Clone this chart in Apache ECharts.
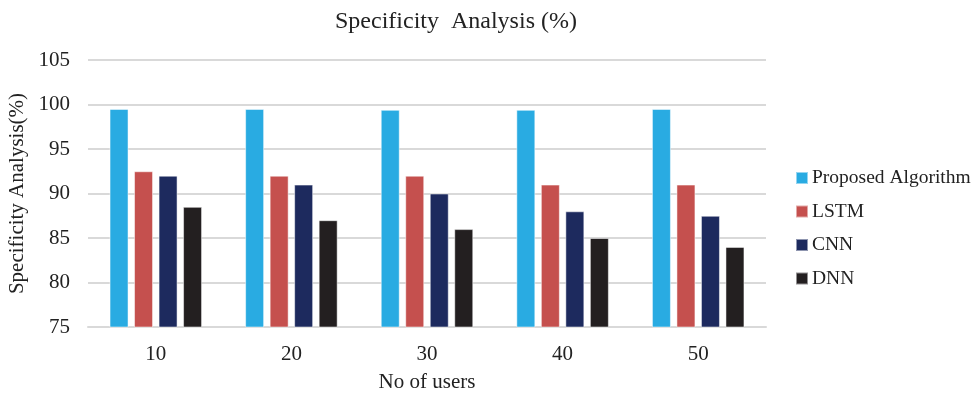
<!DOCTYPE html>
<html><head><meta charset="utf-8">
<script src="https://cdn.jsdelivr.net/npm/echarts@6/dist/echarts.min.js"></script>
<style>html,body{margin:0;padding:0;background:#fff}#c{width:972px;height:394px}</style>
</head><body><div id="c"></div>
<script>
const categories = ['10', '20', '30', '40', '50'];
const seriesNames = ['Proposed Algorithm', 'LSTM', 'CNN', 'DNN'];
const proposed = [99.5, 99.5, 99.4, 99.4, 99.5];
const lstm = [92.5, 92, 92, 91, 91];
const cnn = [92, 91, 90, 88, 87.5];
const dnn = [88.5, 87, 86, 85, 84];
const colors = ['#29ABE2', '#C5504E', '#1D2A5E', '#231F20'];
const font = 'Liberation Serif';
const values = [proposed, lstm, cnn, dnn];
const chart = echarts.init(document.getElementById('c'));
chart.setOption({
  animation: false,
  title: { text: 'Specificity  Analysis (%)', left: 330, top: 5,
    textStyle: { fontFamily: font, fontSize: 24, fontWeight: 'normal', color: '#222' } },
  legend: { orient: 'vertical', left: 795, top: 168, padding: 0, itemGap: 13.5, itemWidth: 12, itemHeight: 12,
    icon: 'rect', textStyle: { fontFamily: font, fontSize: 19.5, color: '#222', padding: [0,0,0,-1] },
    data: seriesNames },
  grid: { left: 88, right: 206, top: 60, bottom: 67, outerBoundsMode: 'none', containLabel: false },
  xAxis: { type: 'category', data: categories,
    axisLine: { lineStyle: { color: '#D9D9D9', width: 2 } }, axisTick: { show: false },
    axisLabel: { fontFamily: font, fontSize: 21, color: '#222', margin: 17 },
    name: 'No of users', nameLocation: 'middle', nameGap: 45,
    nameTextStyle: { fontFamily: font, fontSize: 21, color: '#222' } },
  yAxis: { type: 'value', min: 75, max: 105, interval: 5,
    axisLine: { show: false }, axisTick: { show: false },
    splitLine: { lineStyle: { color: '#D9D9D9', width: 2 } },
    axisLabel: { fontFamily: font, fontSize: 21, color: '#222', margin: 18 },
    name: 'Specificity Analysis(%)', nameLocation: 'middle', nameGap: 57,
    nameTextStyle: { fontFamily: font, fontSize: 21, color: '#222' } },
  series: seriesNames.map((n, i) => ({
    name: n, type: 'bar', data: values[i], barWidth: 19, barGap: '29%',
    itemStyle: { color: colors[i], borderColor: 'rgba(255,255,255,0.5)', borderWidth: 1 }
  }))
});
</script></body></html>
